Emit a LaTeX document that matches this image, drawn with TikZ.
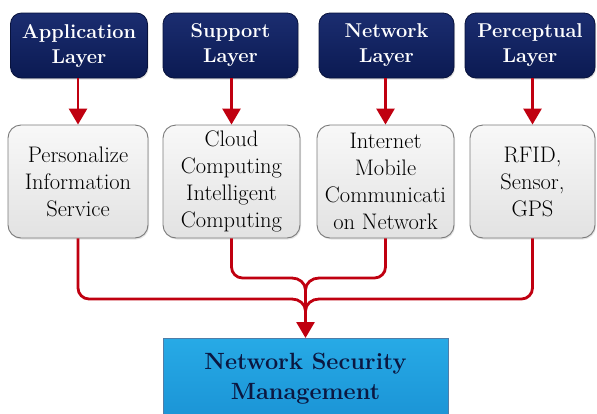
\documentclass[tikz,border=0pt]{standalone}
\usepackage{fontspec}
\usetikzlibrary{arrows.meta,shadows}
\definecolor{navyA}{HTML}{1B2D70}
\definecolor{navyB}{HTML}{0B1A52}
\definecolor{navyD}{HTML}{08123C}
\definecolor{grayA}{HTML}{F8F8F8}
\definecolor{grayB}{HTML}{E2E2E2}
\definecolor{grayD}{HTML}{7A7A7A}
\definecolor{cyanA}{HTML}{27AAE6}
\definecolor{cyanB}{HTML}{1B94D6}
\definecolor{cyanD}{HTML}{4F7DA8}
\definecolor{linkred}{HTML}{C00010}
\definecolor{txtnavy}{HTML}{0B1740}
\begin{document}
\begin{tikzpicture}[x=1pt,y=-1pt,
  layerbox/.style={draw=navyD, line width=0.8pt, top color=navyA, bottom color=navyB,
    rounded corners=11pt, text=white, align=center, inner sep=0pt,
    font=\fontsize{20}{25}\selectfont\bfseries,
    drop shadow={shadow xshift=1pt, shadow yshift=-1.5pt, opacity=0.25}},
  techbox/.style={draw=grayD, line width=0.9pt, top color=grayA, bottom color=grayB,
    rounded corners=13pt, text=black, align=center, inner sep=0pt,
    minimum height=113pt,
    font=\fontsize{22.5}{27}\selectfont,
    drop shadow={shadow xshift=1pt, shadow yshift=-1.5pt, opacity=0.2}},
  mgmtbox/.style={draw=cyanD, line width=0.8pt, top color=cyanA, bottom color=cyanB,
    text=txtnavy, align=center, inner sep=0pt,
    font=\fontsize{23.5}{30}\selectfont\bfseries},
  conn/.style={draw=linkred, line width=2.8pt},
  arr/.style={conn, -{Triangle[width=18pt,length=16pt]}}
]
\fill[white] (0,0) rectangle (597,413);
\clip (0,0) rectangle (597,413);

% top layer boxes
\node[layerbox, minimum width=137pt, minimum height=65pt] (t1) at (79,45.5) {Application\\Layer};
\node[layerbox, minimum width=135pt, minimum height=65pt] (t2) at (230.5,45.5) {Support\\Layer};
\node[layerbox, minimum width=135pt, minimum height=65pt] (t3) at (386.5,45.5) {Network\\Layer};
\node[layerbox, minimum width=130pt, minimum height=65pt] (t4) at (530,45.5) {Perceptual\\Layer};

% technology boxes
\node[techbox, minimum width=140pt] (m1) at (78,181.5) {Personalize\\Information\\Service};
\node[techbox, minimum width=137pt] (m2) at (231.5,181.5) {Cloud\\Computing\\Intelligent\\Computing};
\node[techbox, minimum width=137pt] (m3) at (385.5,181.5) {Internet\\Mobile\\Communicati\\on Network};
\node[techbox, minimum width=125pt] (m4) at (532.5,181.5) {RFID,\\Sensor,\\GPS};

% management box
\node[mgmtbox, minimum width=285pt, minimum height=80pt, anchor=north] (b) at (305.5,338)
  {Network Security\\Management};

% top arrows
\draw[arr] (m1.north |- t1.south) -- (m1.north);
\draw[arr] (m2.north |- t2.south) -- (m2.north);
\draw[arr] (m3.north |- t3.south) -- (m3.north);
\draw[arr] (m4.north |- t4.south) -- (m4.north);

% merging connectors
\coordinate (outerL) at (292,299);
\coordinate (outerR) at (319,299);
\coordinate (innerL) at (292,278);
\coordinate (innerR) at (319,278);
\coordinate (joinOuter) at (305.5,311);
\coordinate (joinInner) at (305.5,290);
\draw[conn, rounded corners=11pt] (m1.south) -- (78,299) -- (outerL);
\draw[conn] (outerL) to[out=0,in=90] (joinOuter);
\draw[conn, rounded corners=11pt] (m4.south) -- (532.5,299) -- (outerR);
\draw[conn] (outerR) to[out=180,in=90] (joinOuter);
\draw[conn, rounded corners=11pt] (m2.south) -- (231.5,278) -- (innerL);
\draw[conn] (innerL) to[out=0,in=90] (joinInner);
\draw[conn, rounded corners=11pt] (m3.south) -- (385.5,278) -- (innerR);
\draw[conn] (innerR) to[out=180,in=90] (joinInner);
\draw[arr] (joinInner) -- (b.north);
\end{tikzpicture}
\end{document}
